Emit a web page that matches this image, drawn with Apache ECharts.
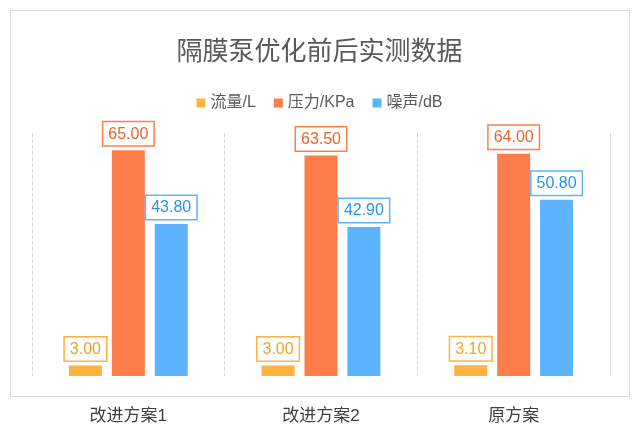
<!DOCTYPE html>
<html>
<head>
<meta charset="utf-8">
<script src="https://cdn.jsdelivr.net/npm/echarts@6/dist/echarts.min.js"></script>
<style>
    html, body { margin: 0; padding: 0; background: #fff; }
    #main { width: 639px; height: 441px; }
</style>
</head>
<body>
<div id="main"></div>
<script>
var categories = ['改进方案1', '改进方案2', '原方案'];
var seriesNames = ['流量/L', '压力/KPa', '噪声/dB'];
var flowData = [3.00, 3.00, 3.10];
var pressureData = [65.00, 63.50, 64.00];
var noiseData = [43.80, 42.90, 50.80];

var barColors = ['#FFB142', '#FF7D4A', '#5CB3FF'];
var labelColors = ['#F0A02A', '#E8642F', '#2E93E6'];
var allData = [flowData, pressureData, noiseData];

var myChart = echarts.init(document.getElementById('main'));

var option = {
    backgroundColor: '#fff',
    textStyle: {
        fontFamily: '"Liberation Sans", "Noto Sans CJK SC", sans-serif'
    },
    title: {
        text: '隔膜泵优化前后实测数据',
        left: 'center',
        top: 35,
        textStyle: {
            color: '#595959',
            fontSize: 26,
            fontWeight: 'normal'
        }
    },
    legend: {
        data: seriesNames,
        top: 90,
        left: 'center',
        itemWidth: 9,
        itemHeight: 9,
        itemGap: 18,
        icon: 'rect',
        textStyle: {
            color: '#595959',
            fontSize: 16
        }
    },
    graphic: [{
        type: 'rect',
        shape: { x: 10.5, y: 10.5, width: 619, height: 386 },
        style: { fill: 'none', stroke: '#dcdcdc', lineWidth: 1 },
        silent: true
    }],
    grid: {
        left: 32,
        right: 29,
        top: 133,
        bottom: 65
    },
    xAxis: [{
        type: 'category',
        data: categories,
        axisLine: { show: false },
        axisTick: { show: false },
        axisLabel: {
            color: '#404040',
            fontSize: 17,
            margin: 32
        },
        splitLine: {
            show: true,
            lineStyle: {
                color: '#d9d9d9',
                type: 'dashed'
            }
        }
    }],
    yAxis: [{
        type: 'value',
        min: 0,
        max: 70,
        show: false,
        splitLine: { show: false }
    }],
    series: function () {
        var res = [];
        for (var i = 0; i < allData.length; i++) {
            res.push({
                name: seriesNames[i],
                type: 'bar',
                data: allData[i],
                barWidth: 33,
                barGap: '30%',
                itemStyle: { color: barColors[i] },
                label: {
                    show: true,
                    position: 'top',
                    distance: 5,
                    formatter: function (p) { return p.value.toFixed(2); },
                    color: labelColors[i],
                    fontSize: 16,
                    backgroundColor: '#fff',
                    borderColor: barColors[i],
                    borderWidth: 1.5,
                    padding: [4, 5, 3, 5]
                }
            });
        }
        return res;
    }()
};

myChart.setOption(option);
</script>
</body>
</html>
